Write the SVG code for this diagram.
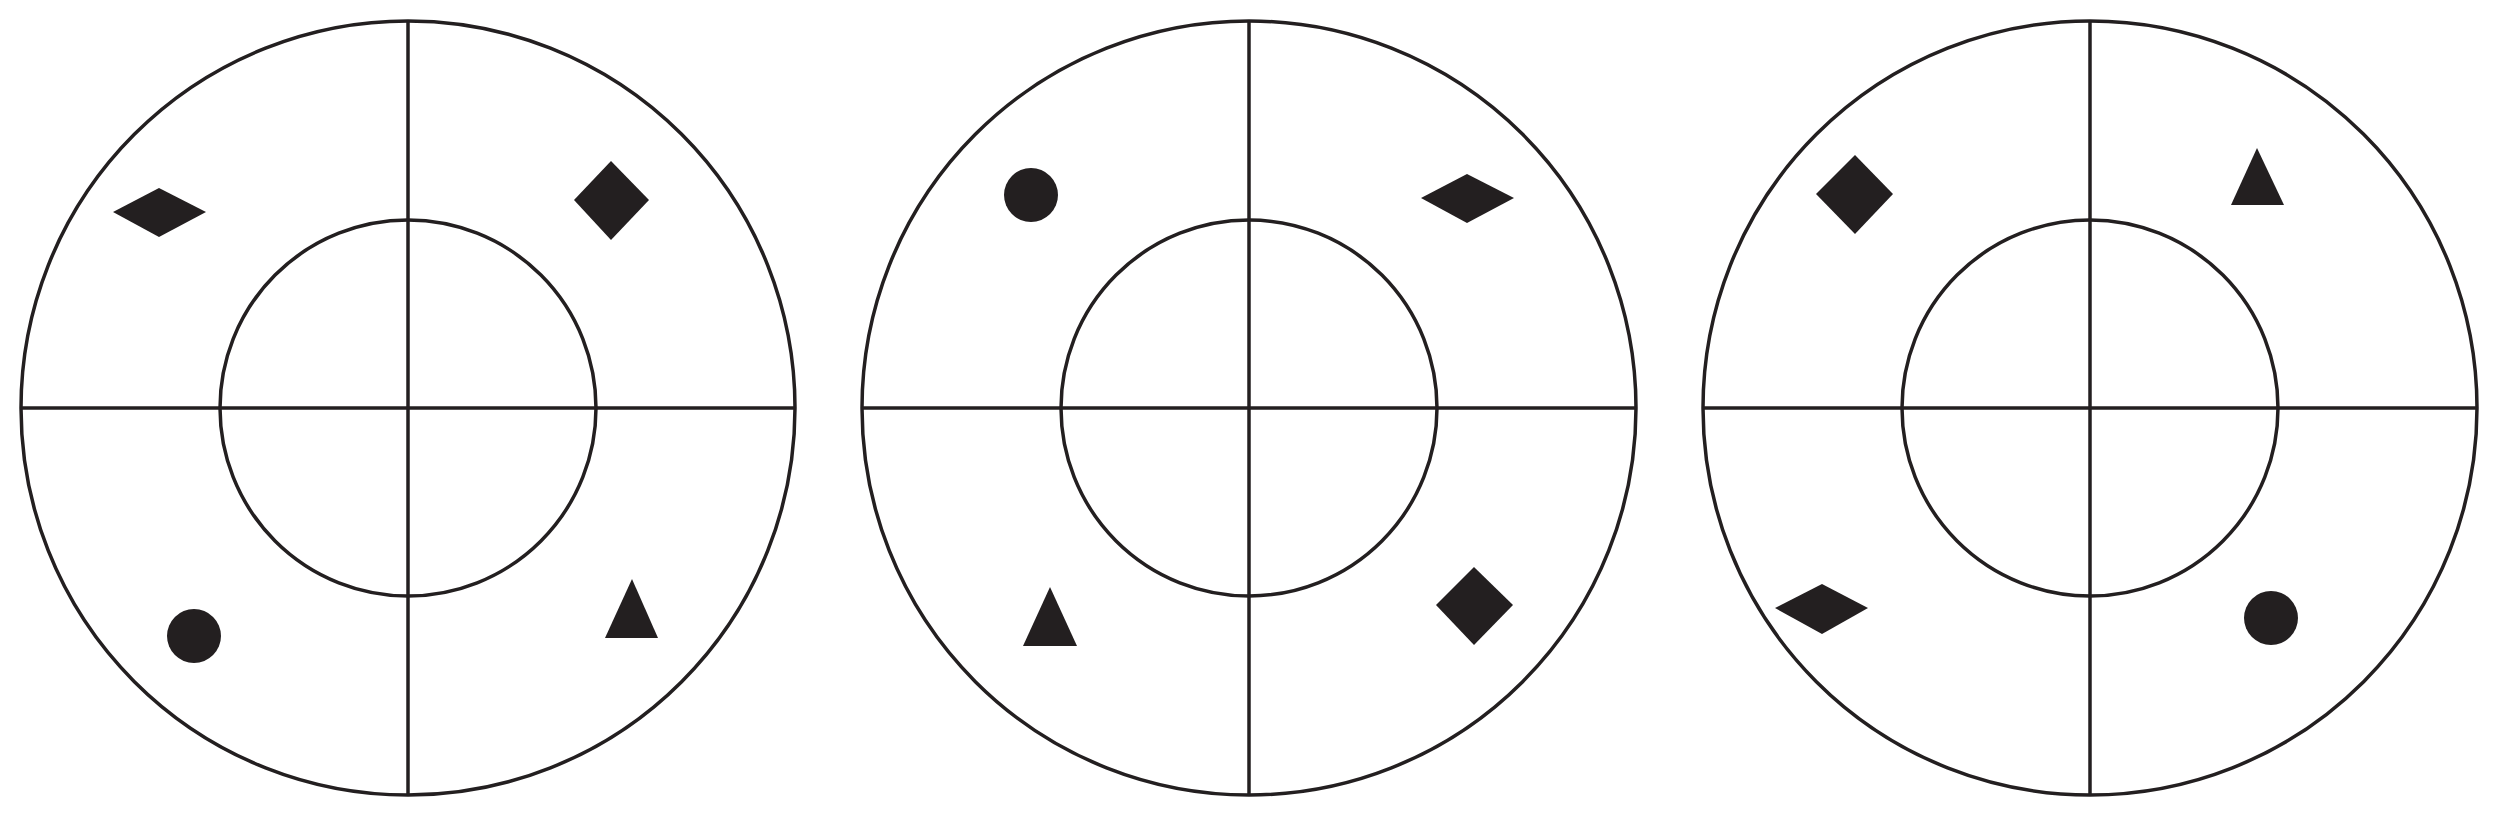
<svg xmlns="http://www.w3.org/2000/svg" width="2498" height="817" viewBox="0 0 2498 817">
<style>
.ring{fill:none;stroke:#231f20;stroke-width:3.5}
.ax{stroke:#231f20;stroke-width:3.5}
.sh{fill:#231f20;stroke:none}
</style>
<rect width="2498" height="817" fill="#ffffff"/>
<g id="disc1">
<circle class="ring" cx="408" cy="408" r="387"/>
<circle class="ring" cx="408" cy="408" r="188"/>
<line class="ax" x1="408" y1="21" x2="408" y2="795"/>
<line class="ax" x1="21" y1="408" x2="795" y2="408"/>
<polygon class="sh" points="113,212 159,188 206,212 159,237"/>
<polygon class="sh" points="611,161 649,200 611,240 574,200"/>
<circle class="sh" cx="194" cy="636" r="27"/>
<polygon class="sh" points="632,579 658,638 605,638"/>
</g>
<g id="disc2">
<circle class="ring" cx="1249" cy="408" r="387"/>
<circle class="ring" cx="1249" cy="408" r="188"/>
<line class="ax" x1="1249" y1="21" x2="1249" y2="795"/>
<line class="ax" x1="862" y1="408" x2="1636" y2="408"/>
<circle class="sh" cx="1031" cy="195" r="27"/>
<polygon class="sh" points="1421,198 1467,174 1514,198 1467,223"/>
<polygon class="sh" points="1050,587 1077,646 1023,646"/>
<polygon class="sh" points="1474,567 1513,605 1474,645 1436,605"/>
</g>
<g id="disc3">
<circle class="ring" cx="2090" cy="408" r="387"/>
<circle class="ring" cx="2090" cy="408" r="188"/>
<line class="ax" x1="2090" y1="21" x2="2090" y2="795"/>
<line class="ax" x1="1703" y1="408" x2="2477" y2="408"/>
<polygon class="sh" points="1855,155 1893,194 1855,234 1816,194"/>
<polygon class="sh" points="2257,148 2284,205 2231,205"/>
<polygon class="sh" points="1775,608 1822,584 1868,608 1822,634"/>
<circle class="sh" cx="2271" cy="618" r="27"/>
</g>
<g id="connectors"/>
</svg>
